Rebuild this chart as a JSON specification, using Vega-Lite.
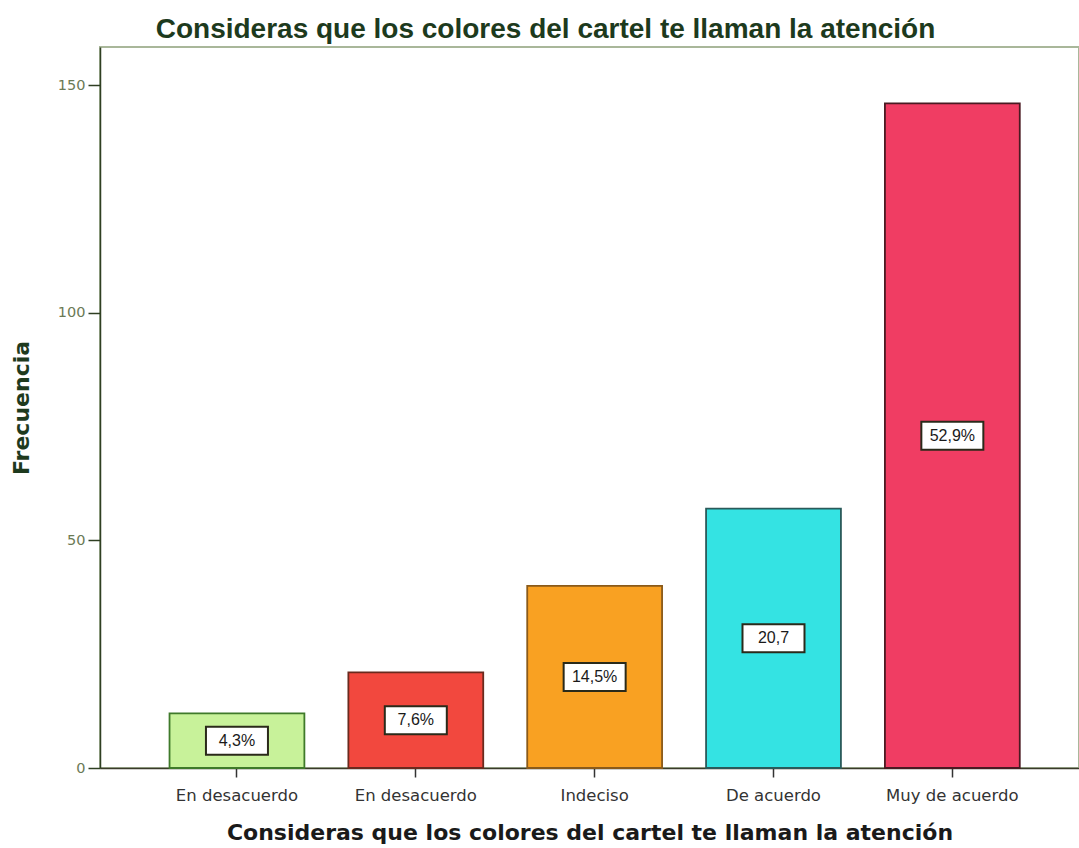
{
  "$schema": "https://vega.github.io/schema/vega-lite/v6.json",
  "autosize": "none",
  "width": 979,
  "height": 721,
  "padding": {"left": 100, "top": 47, "right": 0, "bottom": 80},
  "background": "white",
  "config": {
    "view": {"stroke": "#a9b79a", "strokeWidth": 2}
  },
  "title": {
    "text": "Consideras que los colores del cartel te llaman la atención",
    "font": "Liberation Sans",
    "fontSize": 28,
    "fontWeight": "bold",
    "color": "#1d3a1d",
    "anchor": "middle",
    "frame": "group",
    "dx": -44,
    "offset": 3
  },
  "data": {
    "values": [
      {"cat": "En desacuerdo ", "order": 1, "count": 12, "label": "4,3%", "color": "c1"},
      {"cat": "En desacuerdo", "order": 2, "count": 21, "label": "7,6%", "color": "c2"},
      {"cat": "Indeciso", "order": 3, "count": 40, "label": "14,5%", "color": "c3"},
      {"cat": "De acuerdo", "order": 4, "count": 57, "label": "20,7", "color": "c4"},
      {"cat": "Muy de acuerdo", "order": 5, "count": 146, "label": "52,9%", "color": "c5"}
    ]
  },
  "transform": [{"calculate": "datum.count / 2", "as": "mid"}],
  "encoding": {
    "x": {
      "field": "cat",
      "type": "nominal",
      "sort": {"field": "order"},
      "scale": {"paddingInner": 0.246, "paddingOuter": 0.36, "align": 0.54},
      "axis": {
        "title": "Consideras que los colores del cartel te llaman la atención",
        "titleFont": "DejaVu Sans",
        "titleFontSize": 22,
        "titleFontWeight": "bold",
        "titleColor": "#1a1a1a",
        "titlePadding": 19,
        "labelAngle": 0,
        "labelFont": "DejaVu Sans",
        "labelFontSize": 16.5,
        "labelColor": "#333333",
        "labelPadding": 10,
        "tickColor": "#333333",
        "tickSize": 9,
        "tickWidth": 1.5,
        "domainColor": "#3a3a2a",
        "domainWidth": 1.5
      }
    }
  },
  "layer": [
    {
      "mark": {"type": "bar", "strokeWidth": 1.8},
      "encoding": {
        "y": {
          "field": "count",
          "type": "quantitative",
          "scale": {"domain": [0, 158.4], "nice": false},
          "axis": {
            "title": "Frecuencia",
            "titleFont": "DejaVu Sans",
            "titleFontSize": 22,
            "titleFontWeight": "bold",
            "titleColor": "#1e3a1e",
            "titlePadding": 24,
            "values": [0, 50, 100, 150],
            "grid": false,
            "labelFont": "DejaVu Sans",
            "labelFontSize": 14.5,
            "labelColor": "#6b7a55",
            "labelPadding": 3,
            "tickColor": "#2f3f22",
            "tickSize": 12,
            "tickWidth": 1.5,
            "domainColor": "#2f3f22",
            "domainWidth": 1.5
          }
        },
        "fill": {
          "field": "color",
          "type": "nominal",
          "scale": {"domain": ["c1", "c2", "c3", "c4", "c5"], "range": ["#c8f29a", "#f2483e", "#f9a122", "#34e3e3", "#f03d63"]},
          "legend": null
        },
        "stroke": {
          "field": "color",
          "type": "nominal",
          "scale": {"domain": ["c1", "c2", "c3", "c4", "c5"], "range": ["#3f7a2a", "#6a2a1e", "#8a5a1a", "#2a5a5a", "#4a1a22"]},
          "legend": null
        }
      }
    },
    {
      "mark": {"type": "point", "shape": "M-1,-0.45L1,-0.45L1,0.45L-1,0.45Z", "size": 3844, "filled": true, "fill": "white", "stroke": "#2a2a1a", "strokeWidth": 2, "opacity": 1},
      "encoding": {
        "y": {"field": "mid", "type": "quantitative"}
      }
    },
    {
      "mark": {"type": "text", "font": "Liberation Sans", "fontSize": 16, "color": "#1a1a1a", "baseline": "middle", "align": "center"},
      "encoding": {
        "y": {"field": "mid", "type": "quantitative"},
        "text": {"field": "label"}
      }
    }
  ]
}
